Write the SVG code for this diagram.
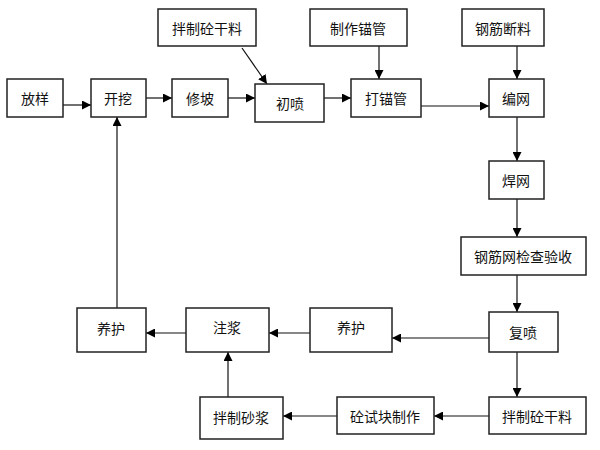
<svg xmlns="http://www.w3.org/2000/svg" width="600" height="450" viewBox="0 0 600 450">
<style>
.b{fill:#fff;stroke:#222;stroke-width:1.5}
.t{font-family:"Noto Sans CJK SC","Liberation Sans",sans-serif;font-size:14px;fill:#111;text-anchor:middle;dominant-baseline:central}
.c{fill:none;stroke:#111;stroke-width:1.2;marker-end:url(#a)}
</style>
<defs>
<marker id="a" markerUnits="userSpaceOnUse" markerWidth="9" markerHeight="9" refX="9" refY="4.5" orient="auto">
<path d="M0,0 L9,4.5 L0,9 z" fill="#000"/>
</marker>
</defs>
<rect width="600" height="450" fill="#fff"/>
<g id="connectors">
<path class="c" d="M63,105 H91"/>
<path class="c" d="M146,98 H172"/>
<path class="c" d="M228,98 H255"/>
<path class="c" d="M324,98 H351"/>
<path class="c" d="M421,106 H489"/>
<path class="c" d="M242,48 L267,84"/>
<path class="c" d="M379,46 V79"/>
<path class="c" d="M517,46 V79"/>
<path class="c" d="M517,117 V161"/>
<path class="c" d="M517,199 V237"/>
<path class="c" d="M517,275 V312"/>
<path class="c" d="M489,338 H392"/>
<path class="c" d="M310,333 H269"/>
<path class="c" d="M186,333 H146"/>
<path class="c" d="M117,308 V117"/>
<path class="c" d="M517,352 V397"/>
<path class="c" d="M489,416 H434"/>
<path class="c" d="M337,416 H283"/>
<path class="c" d="M228,397 V352"/>
</g>
<g id="fangyang"><rect class="b" x="7" y="79" width="56" height="38"/><text class="t" x="35" y="98">放样</text></g>
<g id="kaiwa"><rect class="b" x="91" y="79" width="55" height="38"/><text class="t" x="118" y="98">开挖</text></g>
<g id="xiupo"><rect class="b" x="172" y="79" width="56" height="38"/><text class="t" x="200" y="98">修坡</text></g>
<g id="chupen"><rect class="b" x="255" y="84" width="69" height="38"/><text class="t" x="290" y="103">初喷</text></g>
<g id="banzhi1"><rect class="b" x="158" y="9" width="98" height="37"/><text class="t" x="207" y="28">拌制砼干料</text></g>
<g id="zhizuo"><rect class="b" x="310" y="9" width="97" height="37"/><text class="t" x="358" y="28">制作锚管</text></g>
<g id="damaoguan"><rect class="b" x="351" y="79" width="70" height="38"/><text class="t" x="386" y="98">打锚管</text></g>
<g id="gangjin"><rect class="b" x="462" y="9" width="82" height="37"/><text class="t" x="503" y="28">钢筋断料</text></g>
<g id="bianwang"><rect class="b" x="489" y="79" width="55" height="38"/><text class="t" x="516" y="98">编网</text></g>
<g id="hanwang"><rect class="b" x="489" y="161" width="55" height="38"/><text class="t" x="516" y="180">焊网</text></g>
<g id="jianyan"><rect class="b" x="461" y="237" width="125" height="38"/><text class="t" x="523" y="256">钢筋网检查验收</text></g>
<g id="fupen"><rect class="b" x="489" y="312" width="69" height="40"/><text class="t" x="523" y="332">复喷</text></g>
<g id="yanghu2"><rect class="b" x="310" y="308" width="82" height="44"/><text class="t" x="351" y="327">养护</text></g>
<g id="zhujiang"><rect class="b" x="186" y="308" width="83" height="44"/><text class="t" x="227" y="327">注浆</text></g>
<g id="yanghu1"><rect class="b" x="77" y="308" width="69" height="44"/><text class="t" x="111" y="328">养护</text></g>
<g id="banzhi2"><rect class="b" x="489" y="397" width="97" height="37"/><text class="t" x="537" y="416">拌制砼干料</text></g>
<g id="shikuai"><rect class="b" x="337" y="397" width="97" height="37"/><text class="t" x="385" y="416">砼试块制作</text></g>
<g id="shajiang"><rect class="b" x="200" y="397" width="83" height="42"/><text class="t" x="241" y="417">拌制砂浆</text></g>
</svg>
